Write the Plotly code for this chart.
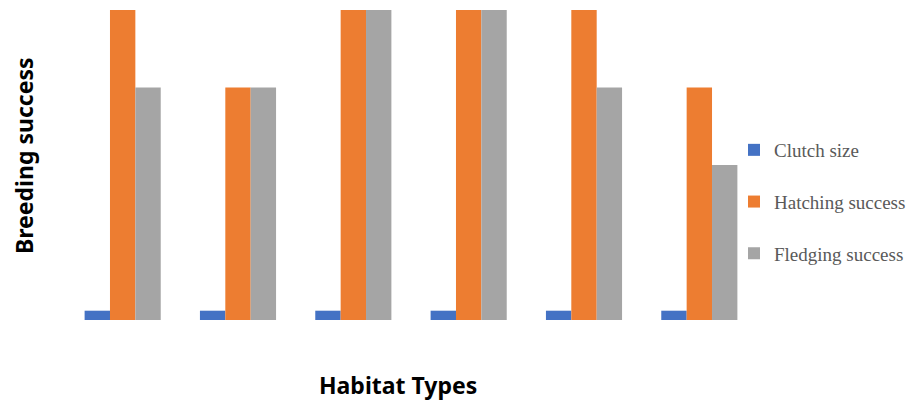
import plotly.graph_objects as go

habitats = ["H1", "H2", "H3", "H4", "H5", "H6"]
clutch_size = [3, 3, 3, 3, 3, 3]
hatching_success = [100, 75, 100, 100, 100, 75]
fledging_success = [75, 75, 100, 100, 75, 50]

series = [
    ("Clutch size", clutch_size, "#4472C4"),
    ("Hatching success", hatching_success, "#ED7D31"),
    ("Fledging success", fledging_success, "#A5A5A5"),
]

W, H = 917, 402
OFF = 8  # page body margin offset
L, R, T, B = 57, 168, 2, 90

fig = go.Figure()
for i, (name, vals, col) in enumerate(series):
    fig.add_trace(go.Bar(
        x=habitats, y=vals, name=name, marker=dict(color=col, line=dict(width=0)),
        legendgroup=f"g{i}",
    ))

pw = W - L - R
ph = H - T - B

def px_x(x):
    return (x - OFF - L) / pw

def px_y(y):
    return (H - B - (y - OFF)) / ph

title_font = dict(family="Noto Sans", size=23, color="black", weight="bold")

fig.update_layout(
    width=W, height=H,
    margin=dict(l=L, r=R, t=T, b=B, autoexpand=False),
    paper_bgcolor="white", plot_bgcolor="white",
    barmode="group", bargap=0.34, bargroupgap=0,
    showlegend=True,
    legend=dict(
        x=px_x(734), xanchor="left", y=px_y(202), yanchor="middle",
        font=dict(family="Liberation Serif", size=19, color="#595959"),
        tracegroupgap=24, itemwidth=30, bgcolor="rgba(0,0,0,0)",
        traceorder="grouped",
    ),
    xaxis=dict(
        showticklabels=False, showgrid=False, zeroline=False, showline=False, ticks="",
    ),
    yaxis=dict(
        range=[0, 100], showticklabels=False, showgrid=False, zeroline=False, showline=False, ticks="",
    ),
    annotations=[
        dict(text="Habitat Types", x=px_x(398), y=px_y(385), xref="paper", yref="paper",
             xanchor="center", yanchor="middle", showarrow=False, font=title_font),
        dict(text="Breeding success", x=px_x(24), y=px_y(156), xref="paper", yref="paper",
             xanchor="center", yanchor="middle", showarrow=False, textangle=-90, font=title_font),
    ],
)

fig.write_html("out.html")
